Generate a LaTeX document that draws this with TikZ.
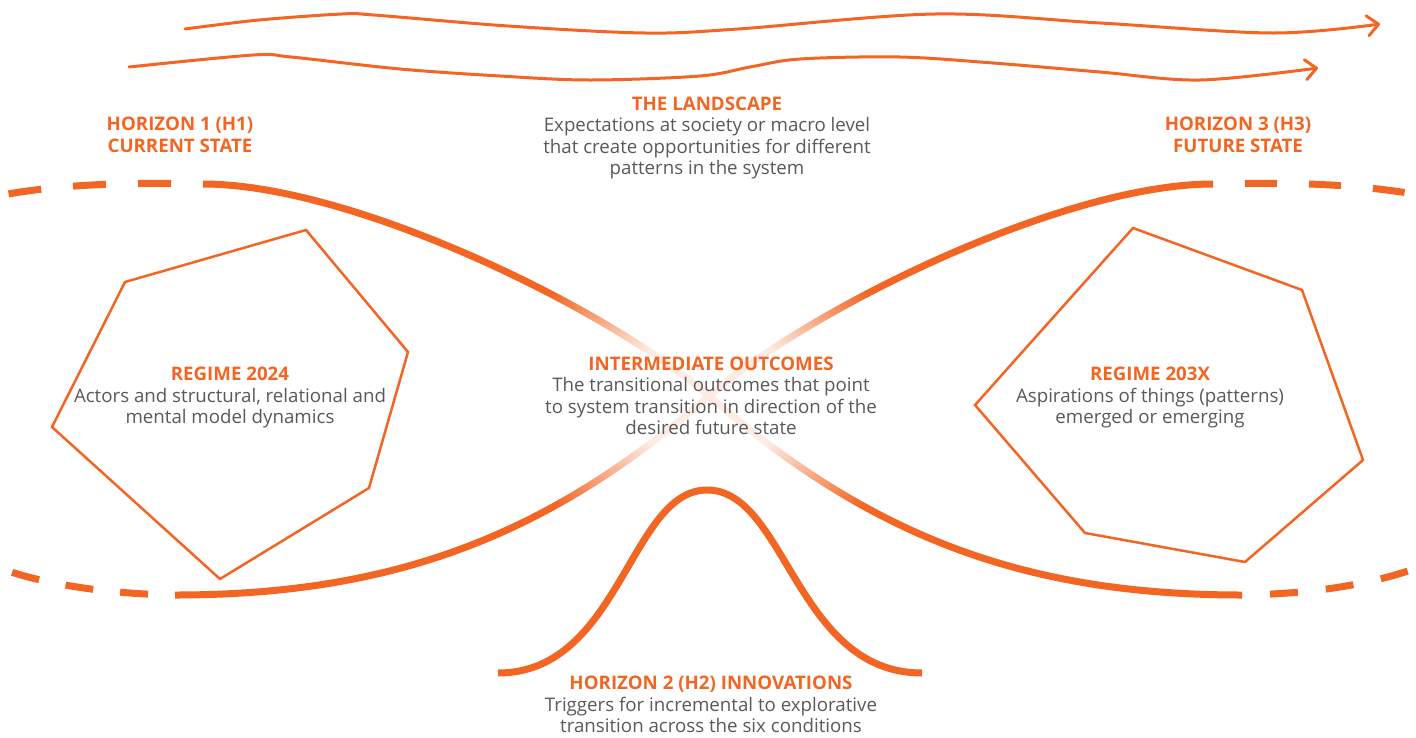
\documentclass[tikz,border=0pt]{standalone}
\usepackage{fontspec}
\setmainfont{Open Sans}
\usetikzlibrary{arrows.meta,fadings}
\definecolor{accent}{RGB}{242,101,34}
\definecolor{bodygray}{RGB}{89,89,89}
% soft white wash that hides the crossing of the two bands
\pgfdeclareradialshading{crossshade}{\pgfpointorigin}{%
  color(0bp)=(pgftransparent!12); color(10bp)=(pgftransparent!12);
  color(25bp)=(pgftransparent!100); color(50bp)=(pgftransparent!100)}
\pgfdeclarefading{crossfade}{\pgfuseshading{crossshade}}
\newcommand\hdline[1]{{\color{accent}\bfseries #1}}

\begin{document}
\begin{tikzpicture}[x=1pt,y=-1pt,
  band/.style={accent, line width=7pt},
  flow/.style={accent, line width=3pt, line cap=round,
    -{Straight Barb[length=11pt,width=20pt,round]}},
  regime/.style={accent, line width=2.5pt, line join=miter},
  label/.style={text=bodygray, font=\fontsize{18.7}{21.5}\selectfont,
    align=center, inner sep=0pt}]

\useasboundingbox (0,0) rectangle (1416,737);

% landscape pressure arrows
\draw[flow] plot[smooth, tension=0.55] coordinates {(185,29) (259,20) (342,14) (374,15)
  (508,26) (645,33) (738,29) (935,14) (1100,23) (1273,33) (1380,24)};
\draw[flow] plot[smooth, tension=0.55] coordinates {(129,67) (253,55) (291,57) (400,69)
  (500,76) (590,80) (700,76) (750,67) (800,59) (900,57) (993,63) (1100,72) (1200,80) (1318,68)};

% the two crossing horizon bands
\coordinate (a0) at (203,184);
\coordinate (x0) at (709,396);
\coordinate (a1) at (1242,595);
\coordinate (b0) at (175,595);
\coordinate (b1) at (1213,184);
\draw[band] (a0) .. controls (353,184) and (609,309) .. (x0)
  .. controls (869,535) and (1022,595) .. (a1);
\draw[band] (b0) .. controls (395,595) and (549,535) .. (x0)
  .. controls (809,309) and (1063,184) .. (b1);

% dashed continuations
\draw[band, dash pattern=on 33pt off 32pt, dash phase=33pt] (a0) .. controls (120,182) and (60,185) .. (8,194);
\draw[band, dash pattern=on 28pt off 27pt, dash phase=28pt] (b0) .. controls (110,594) and (50,585) .. (8,571);
\draw[band, dash pattern=on 32pt off 32pt, dash phase=32pt] (b1) .. controls (1290,182) and (1350,184) .. (1408,193);
\draw[band, dash pattern=on 28pt off 28pt, dash phase=28pt] (a1) .. controls (1310,594) and (1365,585) .. (1408,571);

\fill[white, path fading=crossfade] (x0) ellipse [x radius=200, y radius=170];

% innovation curve
\coordinate (h2l) at (498,673);
\coordinate (h2t) at (707,490);
\coordinate (h2r) at (922,673);
\draw[band] (h2l) .. controls (620,673) and (630,490) .. (h2t)
  .. controls (786,490) and (796,673) .. (h2r);

% regimes
\draw[regime] (125,282) -- (306,230) -- (408,352) -- (369,488) -- (220,579) -- (52,427) -- cycle;
\draw[regime] (1133,228) -- (1302,290) -- (1363,460) -- (1245,562) -- (1085,533) -- (975,405) -- cycle;

% texts
\node[label] (h1) at (180,135) {\hdline{HORIZON 1 (H1)}\\\hdline{CURRENT STATE}};
\node[label] (h3) at (1238,135) {\hdline{HORIZON 3 (H3)}\\\hdline{FUTURE STATE}};
\node[label] (land) at (707,138) {\hdline{THE LANDSCAPE}\\Expectations at society or macro level\\that create opportunities for different\\patterns in the system};
\node[label] (r24) at (230,397.5) {\hdline{REGIME 2024}\\Actors and structural, relational and\\mental model dynamics};
\node[label] (mid) at (711,396) {\hdline{INTERMEDIATE OUTCOMES}\\The transitional outcomes that point\\to system transition in direction of the\\desired future state};
\node[label] (r3x) at (1150,397.5) {\hdline{REGIME 203X}\\Aspirations of things (patterns)\\emerged or emerging};
\node[label] (h2) at (711,704.5) {\hdline{HORIZON 2 (H2) INNOVATIONS}\\Triggers for incremental to explorative\\transition across the six conditions};
\end{tikzpicture}
\end{document}
